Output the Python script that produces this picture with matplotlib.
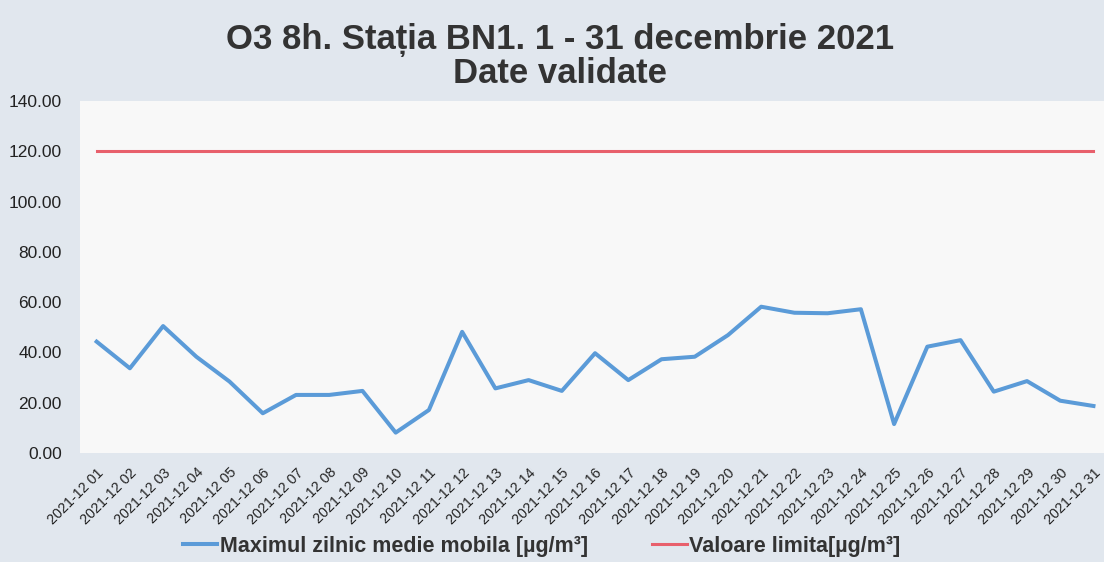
import matplotlib
matplotlib.use("Agg")
import matplotlib.pyplot as plt

# Data
days = [f"2021-12 {d:02d}" for d in range(1, 32)]
o3_max = [44.3, 33.7, 50.5, 38.3, 28.4, 15.8, 23.1, 23.1, 24.7, 8.1,
          17.1, 48.2, 25.7, 29.0, 24.7, 39.7, 29.0, 37.3, 38.3, 46.9,
          58.2, 55.8, 55.6, 57.2, 11.5, 42.3, 44.9, 24.4, 28.6, 20.8, 18.7]
limit = [120.0] * len(days)
yticks = [0, 20, 40, 60, 80, 100, 120, 140]

plt.rcParams["font.family"] = ["Liberation Sans", "DejaVu Sans"]

fig = plt.figure(figsize=(11.04, 5.62), dpi=100)
fig.patch.set_facecolor("#e1e7ee")

ax = fig.add_axes([0.0725, 0.194, 0.933, 0.626])
ax.set_facecolor("#f8f8f8")

x = list(range(len(days)))
ax.plot(x, o3_max, color="#5b9bd8", linewidth=2.9,
        label="Maximul zilnic medie mobila [µg/m³]")
ax.plot(x, limit, color="#e8606c", linewidth=2.2,
        label="Valoare limita[µg/m³]")

ax.set_xlim(-0.5, len(days) - 0.5)
ax.set_ylim(0, 140)
ax.set_yticks(yticks)
ax.set_yticklabels([f"{v:.2f}" for v in yticks], fontsize=12.5, color="#222222")
ax.set_xticks(x)
ax.set_xticklabels(days, rotation=45, ha="right", rotation_mode="anchor",
                   fontsize=10.3, color="#222222")
ax.tick_params(axis="y", length=0, pad=13)
ax.tick_params(axis="x", length=0, pad=9)
for s in ax.spines.values():
    s.set_visible(False)

fig.text(0.507, 0.9, "O3 8h. Stația BN1. 1 - 31 decembrie 2021\nDate validate",
         ha="center", va="center", fontsize=25, fontweight="bold",
         color="#333333", linespacing=1.0)

leg = fig.legend(loc="center", bbox_to_anchor=(0.4905, 0.028), ncol=2,
                 frameon=False, handlelength=1.6, handletextpad=0.1,
                 columnspacing=3.0, prop={"weight": "bold", "size": 15.5})
for t in leg.get_texts():
    t.set_color("#333333")

fig.savefig("out.png", dpi=100, facecolor=fig.get_facecolor())
